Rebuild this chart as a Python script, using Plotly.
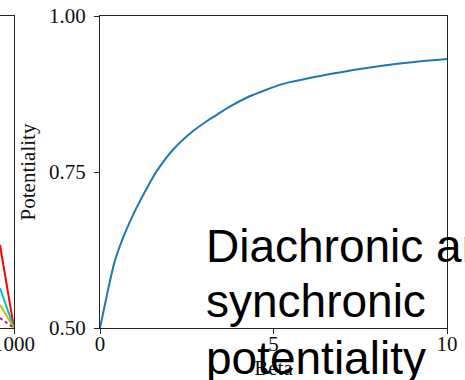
import plotly.graph_objects as go

# Main panel data
beta = [0, 0.23, 0.42, 0.66, 0.95, 1.15, 1.48, 1.63, 2.11, 2.69, 3.17, 3.46, 3.75, 4.3,
        5.2, 5.48, 6.34, 7.59, 8.84, 10]
potentiality = [0.500, 0.561, 0.606, 0.644, 0.681, 0.703, 0.737, 0.751, 0.786, 0.816,
                0.835, 0.845, 0.855, 0.871, 0.890, 0.894, 0.904, 0.916, 0.925, 0.931]

# Left (cropped) neighbour panel: only a sliver is visible
left_x = [960, 1000]
left_red = [0.266, 0.0]
left_cyan = [0.128, 0.0]
left_olive = [0.074, 0.0]
left_magenta = [0.032, 0.0]

y_ticks = [0.50, 0.75, 1.00]
y_ticklabels = ["0.50", "0.75", "1.00"]
x_ticks = [0, 5, 10]
x_ticklabels = ["0", "5", "10"]

overlay_lines = ["Diachronic and", "synchronic", "potentiality"]

W, H = 465, 380
serif = "Liberation Serif, Times New Roman, serif"
spine = "#222222"
FS = 21

fig = go.Figure()

for ys, col, dash in [(left_red, "#ff0000", "solid"), (left_cyan, "#00bfbf", "solid"),
                      (left_olive, "#bfbf00", "solid"), (left_magenta, "#bf00bf", "dot")]:
    fig.add_trace(go.Scatter(x=left_x, y=ys, mode="lines", xaxis="x2", yaxis="y2",
                             line=dict(color=col, width=2, dash=dash), showlegend=False,
                             hoverinfo="skip"))

fig.add_trace(go.Scatter(x=beta, y=potentiality, mode="lines",
                         line=dict(color="#1f77b4", width=2, shape="spline", smoothing=0.6),
                         showlegend=False))

ydom = [(H - 328) / H, (H - 16) / H]
axis_common = dict(showline=True, linecolor=spine, linewidth=1.3,
                   ticks="outside", ticklen=5, tickwidth=1.3, tickcolor=spine,
                   showgrid=False, zeroline=False, automargin=False,
                   tickfont=dict(family=serif, size=FS, color="#111111"))

fig.update_layout(
    width=W, height=H,
    margin=dict(l=0, r=0, t=0, b=0),
    paper_bgcolor="white", plot_bgcolor="white",
    xaxis=dict(domain=[100 / W, 447 / W], range=[0, 10], tickvals=x_ticks, ticktext=x_ticklabels,
               ticklabelstandoff=-8,
               title=dict(text="Beta", font=dict(family=serif, size=FS, color="#111111"), standoff=7),
               anchor="y", mirror=True, **axis_common),
    yaxis=dict(domain=ydom, range=[0.5, 1.0], tickvals=y_ticks, ticktext=y_ticklabels,
               ticklabelstandoff=4,
               title=dict(text="Potentiality", font=dict(family=serif, size=FS, color="#111111"), standoff=7),
               anchor="x", mirror=True, **axis_common),
    xaxis2=dict(domain=[0, 14 / W], range=[960, 1000], tickvals=[1000], ticktext=["1000"],
                ticklabelstandoff=-8, ticklabeloverflow="allow",
                anchor="y2", mirror=True, **axis_common),
    yaxis2=dict(domain=ydom, range=[0, 1], showticklabels=False, ticks="", anchor="x2",
                side="right", showline=True, linecolor=spine, linewidth=1.3, mirror=False,
                showgrid=False, zeroline=False, automargin=False),
)

centers = [246, 301, 358]
for txt, cy in zip(overlay_lines, centers):
    fig.add_annotation(text=txt, xref="paper", yref="paper", x=204 / W, y=(H - cy) / H,
                       xanchor="left", yanchor="middle", showarrow=False,
                       font=dict(family="Liberation Sans, Arial, sans-serif", size=46, color="black"))

fig.write_html("out.html")
